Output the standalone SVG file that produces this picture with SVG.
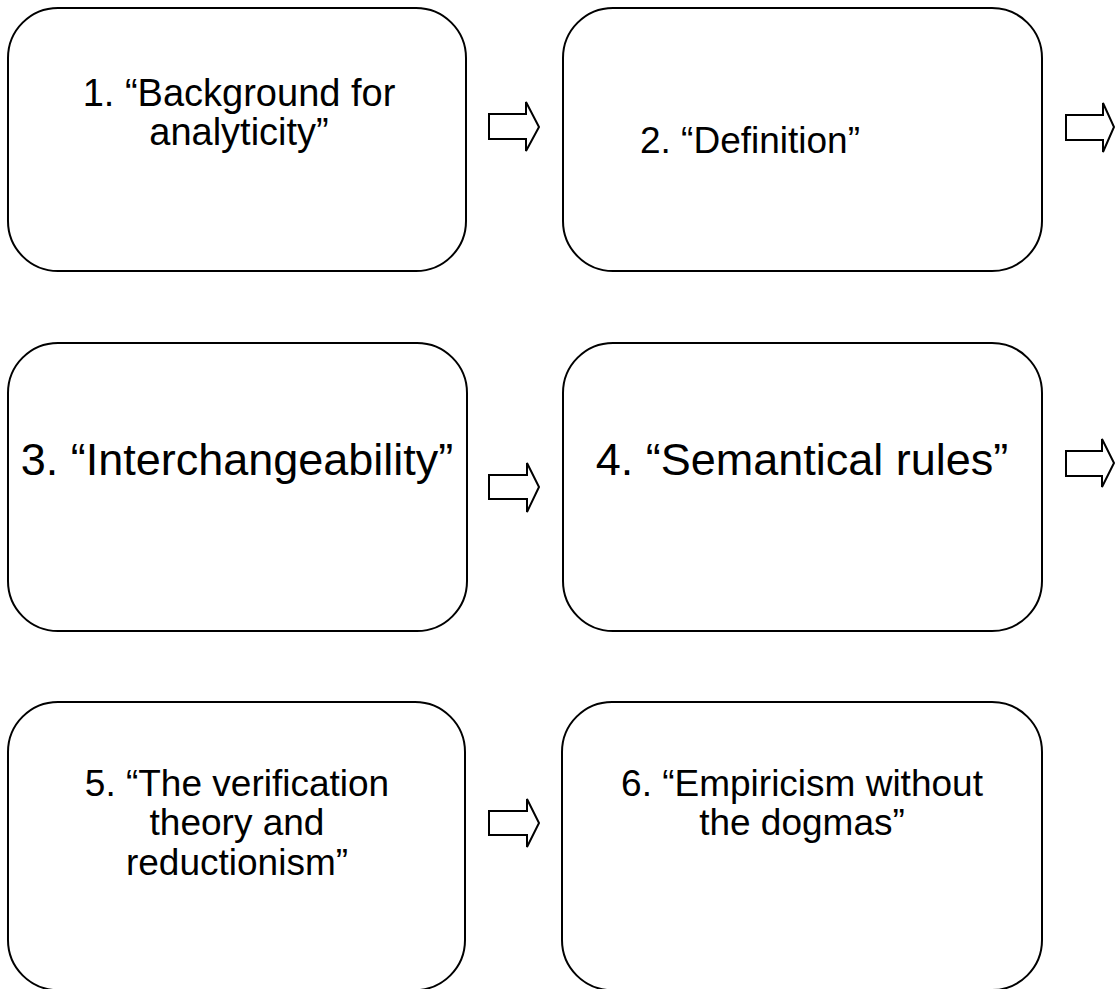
<svg xmlns="http://www.w3.org/2000/svg" width="1116" height="989" viewBox="0 0 1116 989">
  <style>
    .box { fill: #ffffff; stroke: #000000; stroke-width: 2; }
    .label { font-family: "Liberation Sans", Arial, sans-serif; font-size: 37px; fill: #000000; text-anchor: middle; }
    .big { font-size: 45px; }
    .arrow { fill: #ffffff; stroke: #000000; stroke-width: 2; stroke-linejoin: miter; }
  </style>
  <rect width="1116" height="989" fill="#ffffff"/>

  <g id="node1">
    <rect class="box" x="8" y="8" width="458" height="263" rx="50" ry="50"/>
    <text class="label" x="239" y="106" style="font-size:38px">1. “Background for</text>
    <text class="label" x="239" y="145" style="font-size:38px">analyticity”</text>
  </g>
  <g id="node2">
    <rect class="box" x="563" y="8" width="479" height="263" rx="50" ry="50"/>
    <text class="label" x="750" y="153">2. “Definition”</text>
  </g>
  <g id="node3">
    <rect class="box" x="8" y="343" width="459" height="288" rx="50" ry="50"/>
    <text class="label big" x="237" y="475">3. “Interchangeability”</text>
  </g>
  <g id="node4">
    <rect class="box" x="563" y="343" width="479" height="288" rx="50" ry="50"/>
    <text class="label big" x="802" y="475">4. “Semantical rules”</text>
  </g>
  <g id="node5">
    <rect class="box" x="8" y="702" width="457" height="288" rx="50" ry="50"/>
    <text class="label" x="237" y="796">5. “The verification</text>
    <text class="label" x="237" y="835">theory and</text>
    <text class="label" x="237" y="875">reductionism”</text>
  </g>
  <g id="node6">
    <rect class="box" x="562" y="702" width="480" height="288" rx="50" ry="50"/>
    <text class="label" x="802" y="796">6. “Empiricism without</text>
    <text class="label" x="802" y="835">the dogmas”</text>
  </g>

  <g id="connectors">
    <polygon class="arrow" points="489,114 526,114 526,102 539,127 526,151 526,139 489,139"/>
    <polygon class="arrow" points="1066,115 1103,115 1103,103 1114,127 1103,152 1103,140 1066,140"/>
    <polygon class="arrow" points="489,475 527,475 527,463 539,487 527,512 527,499 489,499"/>
    <polygon class="arrow" points="1066,451 1102,451 1102,439 1114,463 1102,487 1102,476 1066,476"/>
    <polygon class="arrow" points="489,811 527,811 527,799 539,823 527,847 527,835 489,835"/>
  </g>
</svg>
